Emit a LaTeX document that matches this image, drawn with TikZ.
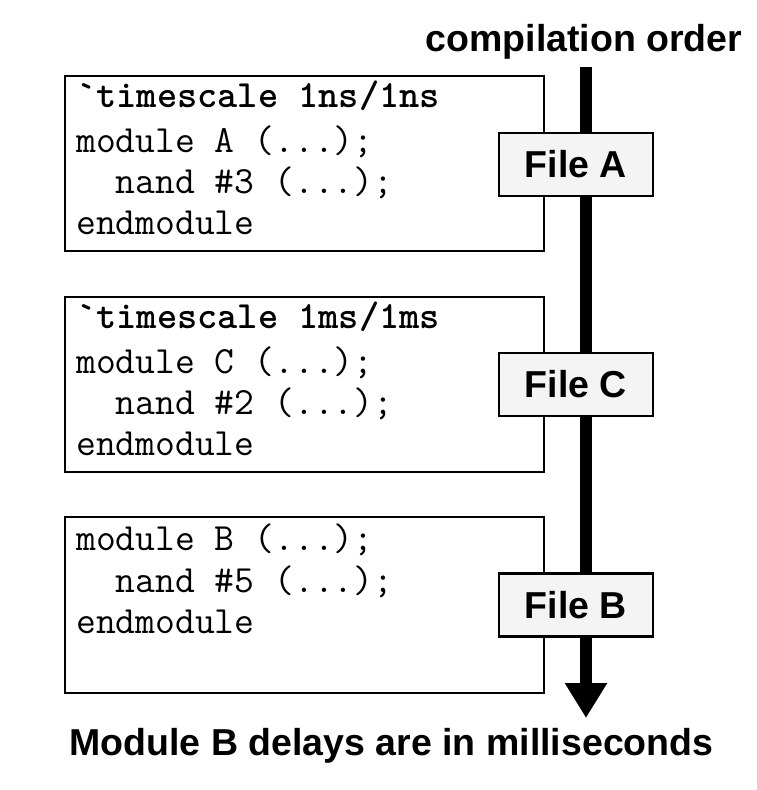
\documentclass[tikz,border=0pt]{standalone}
\usepackage{fontspec}
\setmainfont{Liberation Sans}
\usetikzlibrary{arrows.meta}
\definecolor{filefill}{RGB}{244,244,244}
\begin{document}
\begin{tikzpicture}[x=1pt,y=-1pt,
  codebox/.style={draw=black, line width=2pt, inner sep=0pt, anchor=north west, minimum width=479pt, minimum height=175pt},
  filebox/.style={draw=black, line width=2.5pt, fill=filefill, inner sep=0pt, minimum width=154pt, minimum height=63pt, font=\fontsize{37.5}{45}\selectfont\bfseries},
  codeline/.style={inner sep=0pt, anchor=base west, font=\ttfamily\fontsize{38.5}{45}\selectfont},
  label/.style={inner sep=0pt, anchor=base, font=\fontsize{37.5}{45}\selectfont\bfseries}]
\useasboundingbox (0,0) rectangle (757,790);
\fill[white] (0,0) rectangle (757,790);
% code boxes
\node[codebox] (boxA) at (64,75) {};
\node[codebox] (boxC) at (64,296) {};
\node[codebox, minimum height=176pt] (boxB) at (64,516) {};
% code lines
\node[codeline] (a1) at (76,107) {\bfseries`timescale 1ns/1ns};
\node[codeline] (a2) at (76,152) {module A (...);};
\node[codeline] (a3) at (76,193) {\ \ nand \#3 (...);};
\node[codeline] (a4) at (76,234) {endmodule};
\node[codeline] (c1) at (76,328) {\bfseries`timescale 1ms/1ms};
\node[codeline] (c2) at (76,373) {module C (...);};
\node[codeline] (c3) at (76,414) {\ \ nand \#2 (...);};
\node[codeline] (c4) at (76,455) {endmodule};
\node[codeline] (b1) at (76,550) {module B (...);};
\node[codeline] (b2) at (76,592) {\ \ nand \#5 (...);};
\node[codeline] (b3) at (76,633) {endmodule};
% compilation order arrow
\coordinate (top) at (586,67);
\coordinate (tip) at (586,718);
\draw[line width=12pt, -{Triangle[length=35pt, width=40pt]}] (top) -- (tip);
% file boxes
\node[filebox] (fA) at (576,164.5) {File A};
\node[filebox] (fC) at (576,384.5) {File C};
\node[filebox] (fB) at (576,605) {File B};
% labels
\node[label] (title) at (584,51) {compilation order};
\node[label] (foot) at (391.5,755) {Module B delays are in milliseconds};
\end{tikzpicture}
\end{document}
